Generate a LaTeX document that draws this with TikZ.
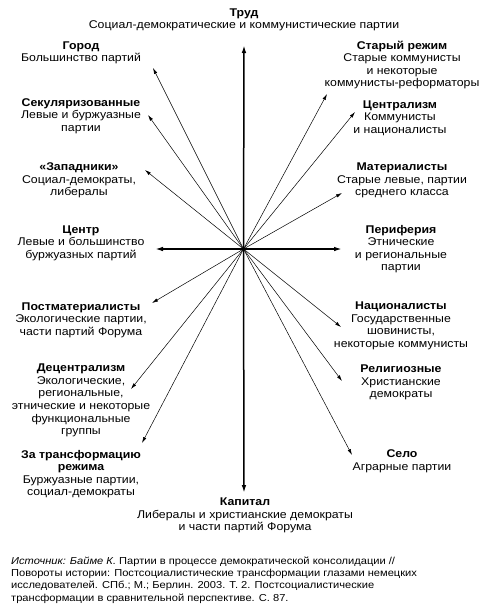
\documentclass[tikz,border=0pt]{standalone}
\usepackage{fontspec}
\setmainfont{Liberation Sans}[FakeStretch=1.1]
\usetikzlibrary{arrows.meta}

\begin{document}
\begin{tikzpicture}[x=1pt,y=-1pt,>={Latex[length=6pt,width=3.4pt]},
  lbl/.style={align=center,inner sep=0pt,font=\fontsize{11.2}{12.6}\selectfont},
  ray/.style={->,line width=.5pt},
  axis/.style={-{Latex[length=8pt,width=4.6pt]},line width=1.5pt}]
\useasboundingbox (0,0) rectangle (491,611);
\coordinate (o) at (243.5,249);
% axes
\node[lbl] (trud) at (244,20) {\textbf{Труд}\\Социал-демократические и коммунистические партии};
\node[lbl] (kapital) at (245,515.5) {\textbf{Капитал}\\Либералы и христианские демократы\\и части партий Форума};
\node[lbl] (centr) at (81,243) {\textbf{Центр}\\Левые и большинство\\буржуазных партий};
\node[lbl] (perif) at (401,249) {\textbf{Периферия}\\Этнические\\и региональные\\партии};
\coordinate (trud-t) at (244,45);
\coordinate (kapital-t) at (244,493);
\coordinate (centr-t) at (155,249);
\coordinate (perif-t) at (342,249);
\foreach \n in {trud,kapital,centr,perif} \draw[axis] (o) -- (\n-t);
% left column
\node[lbl] (gorod) at (81,53) {\textbf{Город}\\Большинство партий};
\node[lbl] (sekul) at (81,116) {\textbf{Секуляризованные}\\Левые и буржуазные\\партии};
\node[lbl] (zapad) at (79,180.5) {\textbf{«Западники»}\\Социал-демократы,\\либералы};
\node[lbl] (postmat) at (81,320) {\textbf{Постматериалисты}\\Экологические партии,\\части партий Форума};
\node[lbl] (decentr) at (81,400.5) {\textbf{Децентрализм}\\Экологические,\\региональные,\\этнические и некоторые\\функциональные\\группы};
\node[lbl] (transf) at (81,474) {\textbf{За трансформацию}\\\textbf{режима}\\Буржуазные партии,\\социал-демократы};
% right column
\node[lbl] (starrez) at (402,65) {\textbf{Старый режим}\\Старые коммунисты\\и некоторые\\коммунисты-реформаторы};
\node[lbl] (centrlz) at (400,118) {\textbf{Централизм}\\Коммунисты\\и националисты};
\node[lbl] (mater) at (402,180.5) {\textbf{Материалисты}\\Старые левые, партии\\среднего класса};
\node[lbl] (nacion) at (401,326) {\textbf{Националисты}\\Государственные\\шовинисты,\\некоторые коммунисты};
\node[lbl] (relig) at (401,382.5) {\textbf{Религиозные}\\Христианские\\демократы};
\node[lbl] (selo) at (402,461) {\textbf{Село}\\Аграрные партии};
% rays
\foreach \n/\x/\y in {gorod/153/68,sekul/148/115,zapad/145/170,postmat/152/303,
  decentr/131/389,transf/142/443,starrez/327/94,centrlz/355/112,mater/342/193,
  nacion/341/327,relig/342/381,selo/352/455}{
  \coordinate (\n-t) at (\x,\y);
  \draw[ray] (o) -- (\n-t);}
\node[anchor=west,align=left,inner sep=0pt,font=\fontsize{10.1}{12.2}\selectfont] (ist) at (11,580)
 {\textit{Источник: Байме К.} Партии в процессе демократической консолидации //\\
  Повороты истории: Постсоциалистические трансформации глазами немецких\\
  исследователей. СПб.; М.; Берлин. 2003. Т. 2. Постсоциалистические\\
  трансформации в сравнительной перспективе. С. 87.};
\end{tikzpicture}
\end{document}
